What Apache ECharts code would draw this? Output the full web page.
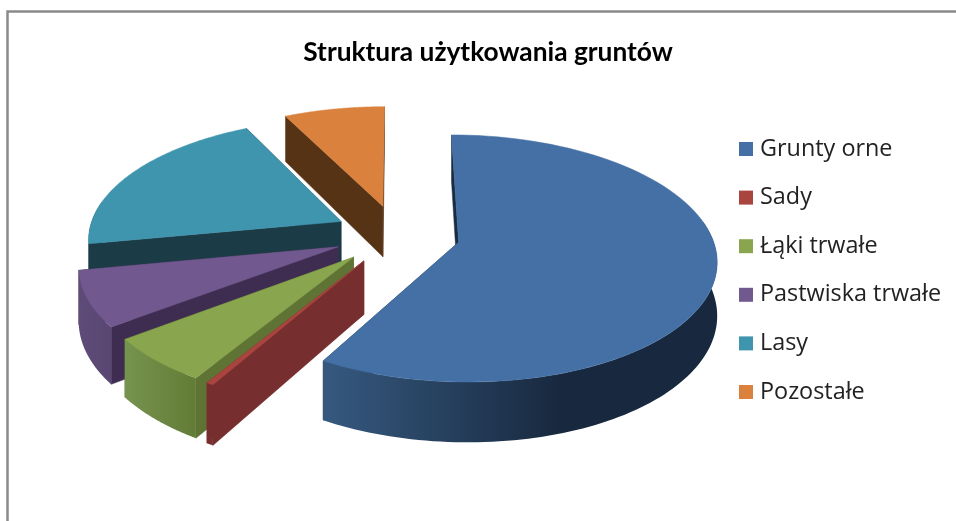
<!DOCTYPE html>
<html>
<head>
<meta charset="utf-8">
<style>html,body{margin:0;padding:0;background:#fff}#c{width:956px;height:521px}</style>
<script src="https://cdn.jsdelivr.net/npm/echarts@6/dist/echarts.min.js"></script>
</head>
<body>
<div id="c"></div>
<script>
var categories = ['Grunty orne', 'Sady', 'Łąki trwałe', 'Pastwiska trwałe', 'Lasy', 'Pozostałe'];
var shares = [58.3, 0.4, 6.0, 7.3, 20.6, 7.4];
var topColors = ['#4470a5', '#a9443f', '#89a54e', '#71588f', '#4095ae', '#d9813d'];
var innerWall = ['#1a2c42', '#762f2e', '#5f7434', '#3e2d50', '#1b3b47', '#573316'];
var outerWallFrom = ['#36597f', '#762f2e', '#76934f', '#5f4b78', '#1b3b47', '#573316'];
var outerWallTo = ['#18293f', '#762f2e', '#627c36', '#5a4672', '#1b3b47', '#573316'];

var view = {cx: 397, cy: 234.5, rx: 253, ry: 119.4, persp: 0.13, depth: 52, explode: 0.25};
var total = shares.reduce(function (a, b) { return a + b; }, 0);

function project(u, v) {
  var w = 1 / (1 - view.persp * v);
  return {x: view.cx + view.rx * u * w, y: view.cy + view.ry * v * w, d: view.depth * w};
}
function sliceAngles(i) {
  var before = 0;
  for (var k = 0; k < i; k++) before += shares[k];
  return [before / total * 2 * Math.PI, (before + shares[i]) / total * 2 * Math.PI];
}
function renderSlice(i) {
  var a = sliceAngles(i), t0 = a[0], t1 = a[1], mid = (t0 + t1) / 2;
  var u0 = view.explode * Math.sin(mid), v0 = -view.explode * Math.cos(mid);
  function rim(t) { return project(u0 + Math.sin(t), v0 - Math.cos(t)); }
  var apex = project(u0, v0);
  function xy(p) { return [p.x, p.y]; }
  function low(p) { return [p.x, p.y + p.d]; }
  function wall(t) {
    var p = rim(t);
    return {type: 'polygon', shape: {points: [xy(apex), xy(p), low(p), low(apex)]},
      style: {fill: innerWall[i], stroke: innerWall[i], lineWidth: 0.5}};
  }
  var steps = 90, arc = [], k;
  for (k = 0; k <= steps; k++) arc.push(rim(t0 + (t1 - t0) * k / steps));
  var top = [xy(apex)].concat(arc.map(xy));
  var children = [wall(t1), wall(t0)];
  var lo = Math.max(t0, 80 * Math.PI / 180), hi = Math.min(t1, 280 * Math.PI / 180);
  if (hi > lo) {
    var upper = [], lower = [];
    for (k = 0; k <= steps; k++) {
      var p = rim(lo + (hi - lo) * k / steps);
      upper.push(xy(p));
      lower.unshift(low(p));
    }
    children.push({type: 'polygon', shape: {points: upper.concat(lower)},
      style: {fill: new echarts.graphic.LinearGradient(0, 0, 1, 0, [
        {offset: 0, color: outerWallFrom[i]},
        {offset: i === 0 ? 0.6 : 1, color: outerWallTo[i]},
        {offset: 1, color: outerWallTo[i]}
      ])}});
  }
  children.push({type: 'polygon', shape: {points: top},
    style: {fill: topColors[i], stroke: topColors[i], lineWidth: 0.5}});
  return {type: 'group', children: children};
}

var series = categories.map(function (name, i) {
  return {
    type: 'custom', name: name, coordinateSystem: 'none', silent: true,
    itemStyle: {color: topColors[i]},
    data: [shares[i]],
    renderItem: function () { return renderSlice(i); },
    animation: false
  };
}).reverse();

var chart = echarts.init(document.getElementById('c'), null, {renderer: 'canvas'});
chart.setOption({
  animation: false,
  backgroundColor: '#ffffff',
  title: {
    text: 'Struktura użytkowania gruntów',
    left: 488, top: 40, textAlign: 'center', padding: 0,
    textStyle: {fontFamily: 'Lato', fontWeight: 'bold', fontSize: 26.3, color: '#000'}
  },
  legend: {
    orient: 'vertical', left: 739, top: 136, padding: 0,
    data: categories.map(function (n) { return {name: n, icon: 'rect'}; }),
    itemWidth: 14, itemHeight: 14, itemGap: 22.6, selectedMode: false,
    textStyle: {fontFamily: 'Open Sans', fontSize: 23.4, color: '#222', lineHeight: 26, padding: [0, 0, 0, 2]}
  },
  graphic: [{
    type: 'rect', silent: true, z: -1,
    shape: {x: 7.5, y: 11.5, width: 1100, height: 800},
    style: {fill: 'none', stroke: '#8a8a8a', lineWidth: 2.5}
  }],
  series: series
});
</script>
</body>
</html>
